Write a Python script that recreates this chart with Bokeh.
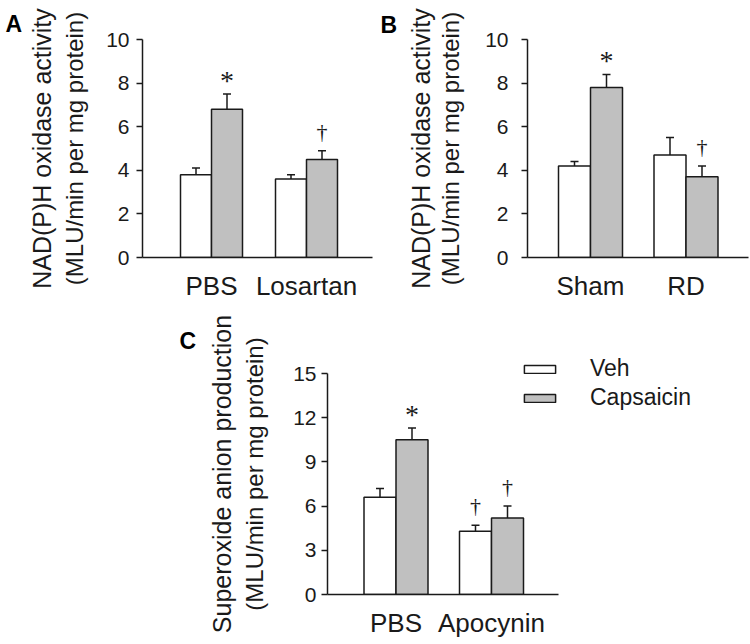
from bokeh.plotting import figure
from bokeh.models import (Range1d, LinearAxis, FixedTicker, Legend,
                          LegendItem, Spacer, Title)
from bokeh.layouts import row, column
from bokeh.embed import file_html
from bokeh.resources import INLINE

# ---------------- data ----------------
series_names = ["Veh", "Capsaicin"]

groups_A = ["PBS", "Losartan"]
veh_A = [3.8, 3.6]
veh_err_A = [0.3, 0.2]
cap_A = [6.8, 4.5]
cap_err_A = [0.7, 0.4]
sig_veh_A = ["", ""]
sig_cap_A = ["*", "\u2020"]
ticks_A = [0, 2, 4, 6, 8, 10]
ylabel_A = ["NAD(P)H oxidase activity", "(MLU/min per mg protein)"]

groups_B = ["Sham", "RD"]
veh_B = [4.2, 4.7]
veh_err_B = [0.2, 0.8]
cap_B = [7.8, 3.7]
cap_err_B = [0.6, 0.5]
sig_veh_B = ["", ""]
sig_cap_B = ["*", "\u2020"]
ticks_B = [0, 2, 4, 6, 8, 10]
ylabel_B = ["NAD(P)H oxidase activity", "(MLU/min per mg protein)"]

groups_C = ["PBS", "Apocynin"]
veh_C = [6.6, 4.3]
veh_err_C = [0.6, 0.4]
cap_C = [10.5, 5.2]
cap_err_C = [0.8, 0.8]
sig_veh_C = ["", "\u2020"]
sig_cap_C = ["*", "\u2020"]
ticks_C = [0, 3, 6, 9, 12, 15]
ylabel_C = ["Superoxide anion production", "(MLU/min per mg protein)"]

# ---------------- style / layout ----------------
FONT = "Liberation Sans"
INK = "#1a1a1a"
GRAY = "#c0c0c0"

# page-pixel layout of each panel:
#  fx,fy,w,h: figure box; fl..fr, ft..fb: plotting frame;
#  vt: pixel of the top tick value; ax_r: right end of the x-axis line
LAY_A = dict(fx=0, fy=0, w=375, h=310, fl=142, ft=39, fr=372, fb=260,
             vt=39, ax_r=372,
             c1=211, c2=306, bar_px=31, tick_out=6, s1=7, s2=15, s3=3,
             letter_x=5, letter_standoff=5)
LAY_B = dict(fx=375, fy=0, w=375, h=310, fl=527, ft=35, fr=748, fb=257,
             vt=35, ax_r=748,
             c1=590, c2=685.5, bar_px=32, tick_out=6, s1=13, s2=18, s3=0,
             letter_x=380, letter_standoff=3)
LAY_C = dict(fx=175, fy=310, w=575, h=334, fl=327, ft=353, fr=748, fb=594,
             vt=373, ax_r=558,
             c1=395.5, c2=491, bar_px=32, tick_out=6, s1=5, s2=22, s3=3,
             letter_x=179, letter_standoff=0,
             legend_at=(193, 183))


def make_panel(letter, groups, veh, veh_err, cap, cap_err, sig_veh, sig_cap,
               ticks, ylabels, L, legend=False):
    ppu = L["c2"] - L["c1"]
    x_lo = 1 - (L["c1"] - L["fl"]) / ppu
    x_hi = 1 + (L["fr"] - L["c1"]) / ppu
    x_axis_end = 1 + (L["ax_r"] - L["c1"]) / ppu
    bw = L["bar_px"] / ppu
    y_lo = ticks[0]
    ppy = (L["fb"] - L["vt"]) / (ticks[-1] - ticks[0])
    y_hi = y_lo + (L["fb"] - L["ft"]) / ppy

    p = figure(width=L["w"], height=L["h"],
               x_range=Range1d(x_lo, x_hi), y_range=Range1d(y_lo, y_hi),
               output_backend="svg", toolbar_location=None,
               min_border_left=L["fl"] - L["fx"],
               min_border_right=L["fx"] + L["w"] - L["fr"],
               min_border_top=L["ft"] - L["fy"],
               min_border_bottom=L["fy"] + L["h"] - L["fb"])
    p.outline_line_color = None
    p.grid.visible = False
    p.background_fill_color = "white"
    p.border_fill_color = "white"

    p.title = Title(text=letter, align="left", offset=L["letter_x"] - L["fl"],
                    standoff=L["letter_standoff"], text_font=FONT,
                    text_font_size="23px", text_font_style="bold",
                    text_color="black")

    xs = [i + 1 for i in range(len(groups))]
    xv = [x - bw / 2 for x in xs]
    xc = [x + bw / 2 for x in xs]

    rv = p.vbar(x=xv, top=veh, bottom=0, width=bw, fill_color="white",
                line_color=INK, line_width=1.5)
    rc = p.vbar(x=xc, top=cap, bottom=0, width=bw, fill_color=GRAY,
                line_color=INK, line_width=1.5)

    ex = xv + xc
    ey0 = list(veh) + list(cap)
    ey1 = [v + e for v, e in zip(veh, veh_err)] + [v + e for v, e in zip(cap, cap_err)]
    p.segment(x0=ex, y0=ey0, x1=ex, y1=ey1, line_color=INK, line_width=1.5)
    p.scatter(x=ex, y=ey1, marker="dash", size=8, line_color=INK, line_width=1.5)

    sigs = list(sig_veh) + list(sig_cap)
    ax_ = [x for x, s in zip(ex, sigs) if s == "*"]
    ay_ = [y for y, s in zip(ey1, sigs) if s == "*"]
    dx_ = [x for x, s in zip(ex, sigs) if s == "\u2020"]
    dy_ = [y for y, s in zip(ey1, sigs) if s == "\u2020"]
    if ax_:
        p.text(x=ax_, y=ay_, text=["*"] * len(ax_), text_font=FONT,
               text_font_size="28px", text_align="center",
               text_baseline="bottom", y_offset=2, text_color=INK)
    if dx_:
        p.text(x=dx_, y=dy_, text=["\u2020"] * len(dx_), text_font=FONT,
               text_font_size="22px", text_align="center",
               text_baseline="bottom", y_offset=-7, text_color=INK)

    # x axis
    xa = p.xaxis[0]
    xa.ticker = FixedTicker(ticks=xs)
    xa.major_label_overrides = {x: g for x, g in zip(xs, groups)}
    xa.bounds = (x_lo, x_axis_end)
    xa.major_tick_line_color = None
    xa.minor_tick_line_color = None
    xa.major_label_text_font = FONT
    xa.major_label_text_font_size = "26px"
    xa.major_label_text_color = INK
    xa.major_label_standoff = 7
    xa.axis_line_color = INK
    xa.axis_line_width = 1.5

    # y axis (inner title line)
    ya = p.yaxis[0]
    ya.ticker = FixedTicker(ticks=ticks)
    ya.bounds = (ticks[0], ticks[-1])
    ya.major_tick_in = 0
    ya.major_tick_out = L["tick_out"]
    ya.major_tick_line_color = INK
    ya.major_tick_line_width = 1.5
    ya.minor_tick_line_color = None
    ya.axis_line_color = INK
    ya.axis_line_width = 1.5
    ya.major_label_text_font = FONT
    ya.major_label_text_font_size = "21px"
    ya.major_label_text_color = INK
    ya.major_label_standoff = L["s1"]
    ya.axis_label = ylabels[1]
    ya.axis_label_text_font = FONT
    ya.axis_label_text_font_size = "24px"
    ya.axis_label_text_font_style = "normal"
    ya.axis_label_text_color = INK
    ya.axis_label_standoff = L["s2"]

    # outer title line
    ya2 = LinearAxis(ticker=FixedTicker(ticks=[]), axis_line_color=None,
                     bounds=(ticks[0], ticks[-1]),
                     major_tick_line_color=None, minor_tick_line_color=None,
                     major_tick_out=0, major_tick_in=0, major_label_standoff=0,
                     major_label_text_font_size="0px",
                     axis_label=ylabels[0], axis_label_text_font=FONT,
                     axis_label_text_font_size="25px",
                     axis_label_text_font_style="normal",
                     axis_label_text_color=INK, axis_label_standoff=L["s3"])
    p.add_layout(ya2, "left")

    if legend:
        lg = Legend(items=[LegendItem(label=series_names[0], renderers=[rv]),
                           LegendItem(label=series_names[1], renderers=[rc])],
                    location=L["legend_at"], orientation="vertical",
                    glyph_width=39, glyph_height=10, label_standoff=31,
                    spacing=2, padding=0, margin=0,
                    border_line_color=None, background_fill_alpha=0,
                    label_text_font=FONT, label_text_font_size="23px",
                    label_text_color=INK)
        p.add_layout(lg)
    return p


pA = make_panel("A", groups_A, veh_A, veh_err_A, cap_A, cap_err_A,
                sig_veh_A, sig_cap_A, ticks_A, ylabel_A, LAY_A)
pB = make_panel("B", groups_B, veh_B, veh_err_B, cap_B, cap_err_B,
                sig_veh_B, sig_cap_B, ticks_B, ylabel_B, LAY_B)
pC = make_panel("C", groups_C, veh_C, veh_err_C, cap_C, cap_err_C,
                sig_veh_C, sig_cap_C, ticks_C, ylabel_C, LAY_C, legend=True)

top = row(pA, pB, spacing=0)
bottom = row(Spacer(width=LAY_C["fx"], height=LAY_C["h"]), pC, spacing=0)
layout = column(top, bottom, spacing=0)

open("out.html", "w").write(file_html(layout, INLINE))
